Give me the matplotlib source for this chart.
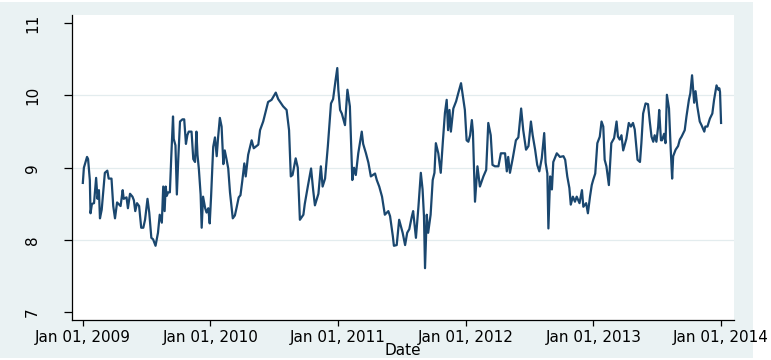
import numpy as np
import pandas as pd
import matplotlib
matplotlib.use("Agg")
from matplotlib import pyplot as plt
import matplotlib.dates as mdates
from matplotlib.patches import Rectangle

# days since 2009-01-01
days = [0, 3, 12, 15, 20, 22, 26, 32, 38, 42, 46, 49, 54, 63, 70, 74, 82, 87, 92, 98,
        104, 108, 114, 117, 125, 129, 135, 142, 146, 150, 155, 161, 167, 173, 178, 185,
        190, 196, 201, 208, 215, 220, 226, 230, 234, 237, 240, 244, 249, 253, 258, 260,
        265, 269, 273, 278, 285, 290, 295, 299, 303, 311, 316, 321, 325, 328, 332, 337,
        340, 344, 350, 354, 359, 363, 367, 373, 378, 383, 387, 392, 397, 402, 406, 411,
        416, 421, 429, 435, 440, 446, 451, 456, 462, 466, 473, 483, 489, 497, 502, 507,
        516, 530, 540, 552, 559, 573, 583, 590, 595, 600, 609, 615, 621, 631, 635, 644,
        653, 659, 664, 674, 681, 686, 693, 701, 710, 716, 723, 728, 731, 736, 741, 750,
        757, 764, 771, 776, 781, 788, 798, 802, 810, 817, 824, 836, 841, 848, 856, 864,
        874, 879, 887, 890, 898, 905, 915, 922, 928, 934, 941, 945, 953, 960, 967, 972,
        976, 979, 984, 988, 995, 1001, 1006, 1010, 1017, 1024, 1030, 1036, 1041, 1045,
        1049, 1053, 1060, 1068, 1074, 1082, 1087, 1093, 1098, 1103, 1108, 1113, 1116,
        1122, 1129, 1136, 1146, 1154, 1160, 1167, 1172, 1179, 1189, 1196, 1208, 1213,
        1217, 1222, 1230, 1239, 1246, 1254, 1260, 1268, 1275, 1282, 1287, 1294, 1300,
        1306, 1308, 1313, 1320, 1324, 1329, 1332, 1337, 1342, 1346, 1356, 1365, 1375,
        1380, 1386, 1392, 1396, 1402, 1408, 1413, 1421, 1428, 1432, 1440, 1445, 1451,
        1456, 1460, 1466, 1472, 1479, 1484, 1489, 1493, 1498, 1505, 1512, 1520, 1527,
        1531, 1536, 1541, 1546, 1555, 1562, 1568, 1574, 1579, 1587, 1594, 1598, 1603,
        1610, 1617, 1622, 1627, 1632, 1636, 1641, 1646, 1649, 1654, 1657, 1663, 1667,
        1671, 1677, 1682, 1686, 1689, 1696, 1703, 1708, 1713, 1722, 1727, 1734, 1738,
        1743, 1749, 1753, 1758, 1765, 1770, 1778, 1781, 1787, 1794, 1801, 1806, 1813,
        1818, 1821, 1823, 1826]

values = [8.79, 9.00, 9.15, 9.12, 8.83, 8.37, 8.50, 8.51, 8.86, 8.57, 8.69, 8.30, 8.42, 8.93,
          8.96, 8.85, 8.85, 8.47, 8.30, 8.52, 8.49, 8.47, 8.69, 8.57, 8.59, 8.44, 8.64, 8.60,
          8.55, 8.40, 8.51, 8.47, 8.17, 8.17, 8.28, 8.57, 8.38, 8.03, 8.01, 7.92, 8.10, 8.35,
          8.24, 8.74, 8.40, 8.74, 8.61, 8.66, 8.66, 9.15, 9.71, 9.40, 9.31, 8.63, 9.12, 9.64,
          9.67, 9.67, 9.33, 9.45, 9.50, 9.50, 9.12, 9.08, 9.50, 9.18, 8.98, 8.63, 8.17, 8.60,
          8.44, 8.38, 8.44, 8.23, 8.61, 9.29, 9.42, 9.16, 9.42, 9.69, 9.57, 9.05, 9.24, 9.12,
          8.99, 8.66, 8.30, 8.34, 8.45, 8.59, 8.62, 8.81, 9.06, 8.88, 9.18, 9.38, 9.27, 9.30,
          9.32, 9.52, 9.64, 9.91, 9.94, 10.04, 9.95, 9.85, 9.80, 9.52, 8.88, 8.90, 9.13, 9.00,
          8.28, 8.35, 8.50, 8.75, 8.99, 8.69, 8.48, 8.64, 9.02, 8.74, 8.85, 9.30, 9.89, 9.95,
          10.21, 10.38, 10.08, 9.80, 9.75, 9.59, 10.08, 9.85, 8.83, 9.00, 8.90, 9.20, 9.50,
          9.33, 9.20, 9.07, 8.88, 8.92, 8.83, 8.74, 8.60, 8.35, 8.40, 8.33, 8.05, 7.92, 7.93,
          8.28, 8.10, 7.93, 8.10, 8.15, 8.32, 8.40, 8.03, 8.45, 8.93, 8.70, 8.33, 7.61, 8.35,
          8.10, 8.35, 8.83, 8.93, 9.34, 9.20, 8.93, 9.36, 9.76, 9.94, 9.52, 9.80, 9.50, 9.82,
          9.92, 10.03, 10.17, 10.00, 9.80, 9.38, 9.36, 9.45, 9.66, 9.50, 8.53, 9.02, 8.74,
          8.88, 8.97, 9.62, 9.45, 9.04, 9.02, 9.02, 9.20, 9.20, 8.95, 9.15, 8.93, 9.13, 9.38,
          9.42, 9.82, 9.52, 9.25, 9.30, 9.64, 9.45, 9.25, 9.04, 8.95, 9.00, 9.13, 9.48, 9.07,
          8.92, 8.16, 8.88, 8.70, 9.08, 9.20, 9.15, 9.16, 9.11, 8.88, 8.72, 8.49, 8.60, 8.53,
          8.60, 8.51, 8.69, 8.46, 8.51, 8.37, 8.60, 8.76, 8.83, 8.92, 9.34, 9.43, 9.64, 9.57,
          9.11, 9.02, 8.76, 9.34, 9.41, 9.64, 9.43, 9.39, 9.45, 9.24, 9.40, 9.62, 9.57, 9.62,
          9.53, 9.11, 9.08, 9.34, 9.75, 9.89, 9.88, 9.64, 9.43, 9.36, 9.45, 9.36, 9.57, 9.80,
          9.38, 9.38, 9.47, 9.34, 10.01, 9.82, 9.25, 8.85, 9.16, 9.25, 9.30, 9.39, 9.43, 9.52,
          9.71, 9.94, 10.03, 10.28, 9.90, 10.06, 9.85, 9.64, 9.59, 9.50, 9.57, 9.57, 9.68,
          9.75, 9.94, 10.14, 10.08, 10.10, 10.05, 9.62]

yticks = [7, 8, 9, 10, 11]
tick_years = [2009, 2010, 2011, 2012, 2013, 2014]

dates = pd.Timestamp("2009-01-01") + pd.to_timedelta(days, unit="D")

plt.rcParams["font.family"] = ["DejaVu Sans"]
bg = "#eaf2f3"
navy = "#1a476f"

fig = plt.figure(figsize=(7.71, 3.6), dpi=100, facecolor="white")
fig.patches.append(Rectangle((0, 2 / 360), 753 / 771, 356 / 360, transform=fig.transFigure,
                             facecolor=bg, edgecolor="none", zorder=-10))
ax = fig.add_axes([72 / 771, 40 / 360, 662 / 771, 305 / 360])
ax.set_facecolor("white")

ax.plot(dates, values, color=navy, lw=1.6, zorder=3)

ax.set_ylim(6.893, 11.114)
ax.set_xlim(pd.Timestamp("2008-12-01"), pd.Timestamp("2014-02-07"))
ax.set_yticks(yticks)
ax.set_yticklabels([str(v) for v in yticks], rotation=90, va="center", fontsize=11)
ax.set_xticks([pd.Timestamp(f"{y}-01-01") for y in tick_years])
ax.xaxis.set_major_formatter(mdates.DateFormatter("%b %d, %Y"))
for lab in ax.get_xticklabels():
    lab.set_fontsize(11)

for v in [8, 9, 10]:
    ax.axhline(v, color="#e3ecee", lw=0.9, zorder=1)

for s in ["top", "right"]:
    ax.spines[s].set_visible(False)
for s in ["left", "bottom"]:
    ax.spines[s].set_linewidth(0.9)
    ax.spines[s].set_color("black")

ax.tick_params(axis="y", length=6, width=0.9, pad=17, colors="black")
ax.tick_params(axis="x", length=4, width=0.9, pad=3, colors="black")
ax.set_xlabel("Date", fontsize=11, labelpad=-1)

fig.savefig("out.png", dpi=100, facecolor=fig.get_facecolor())
plt.close(fig)
